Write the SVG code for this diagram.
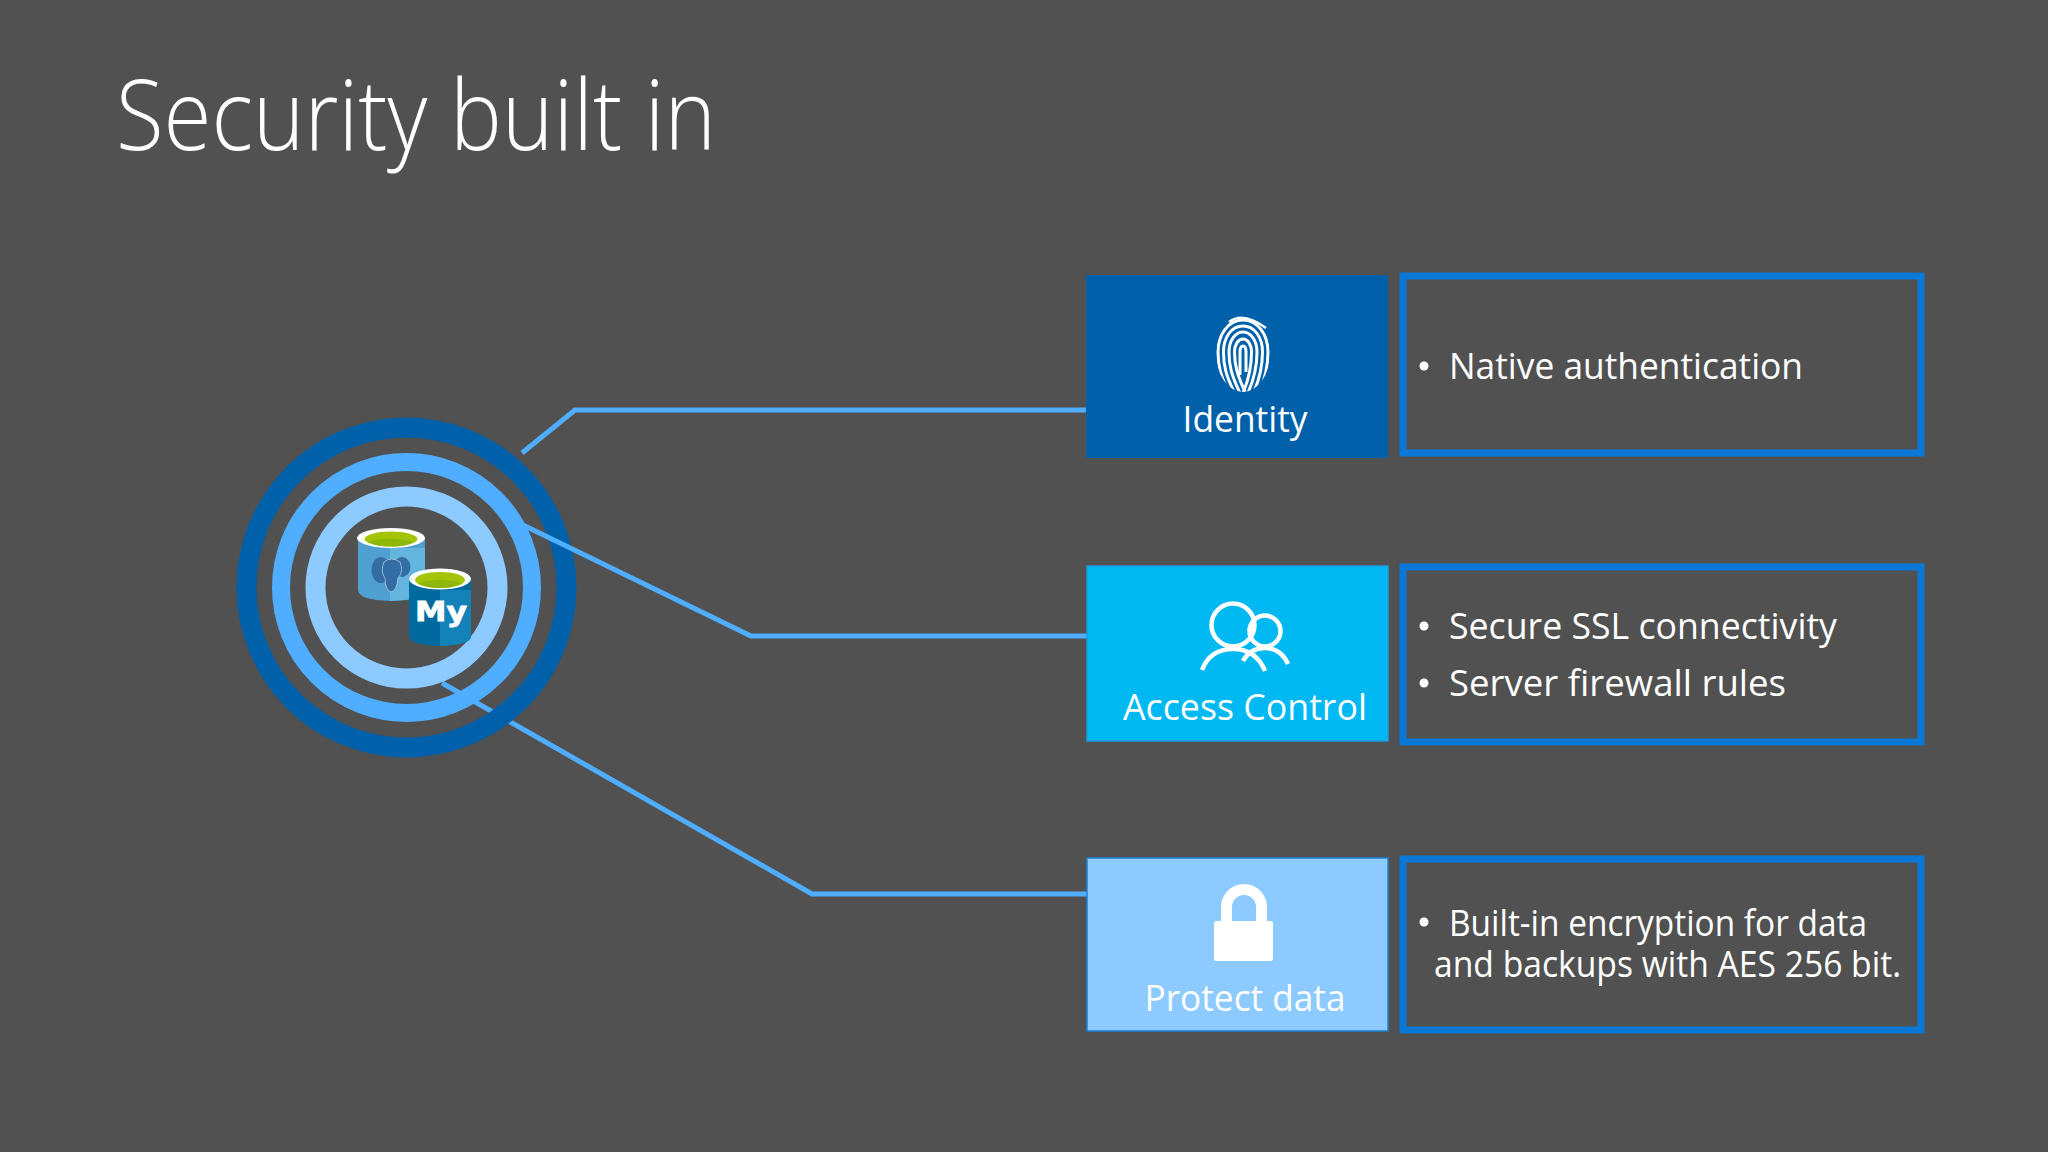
<svg xmlns="http://www.w3.org/2000/svg" width="2048" height="1152" viewBox="0 0 2048 1152">
<style>
text{font-family:"Open Sans","Noto Sans",sans-serif;fill:#fff}
.t{font-size:36px;font-weight:400}
.l{font-size:36px;text-anchor:middle}
.o{fill:#515151;stroke:#0a78d7;stroke-width:7}
.c{fill:none;stroke:#4faeff;stroke-width:5}
.r{fill:none}
.w{fill:none;stroke:#fff;stroke-width:4.5}
</style>
<defs>
<clipPath id="fp"><ellipse cx="1243" cy="353" rx="27" ry="39"/></clipPath>
</defs>
<rect width="2048" height="1152" fill="#515151"/>
<text x="116" y="150" font-size="97" textLength="600" lengthAdjust="spacingAndGlyphs" style="font-weight:300">Security built in</text>
<g id="connectors">
<path class="c" d="M442 683L812 894H1087"/>
<path class="c" d="M522 453L575 410H1086"/>
</g>
<g id="hub">
<circle class="r" cx="406.500" cy="587.500" r="160" stroke="#0060aa" stroke-width="20"/>
<circle class="r" cx="406.500" cy="587.500" r="125.500" stroke="#4faeff" stroke-width="18"/>
<circle class="r" cx="406.500" cy="587.500" r="91" stroke="#8ccaff" stroke-width="20"/>
<path class="c" d="M523 525L751 636H1087"/>
<g id="db-postgres">
<path d="M358 538V590Q358 600 391 601Q425 600 425 590V538Z" fill="#4fa0d0"/>
<path d="M390 548H425V590Q425 600 390 601Z" fill="#64b5dd"/>
<ellipse cx="391" cy="538" rx="34" ry="10" fill="#fff"/>
<ellipse cx="391" cy="539" rx="26.500" ry="7.500" fill="#a4c408"/>
<path d="M368 542Q391 535 414 542Q405 546.500 391 546.500Q377 546.500 368 542Z" fill="#8fb70a"/>
<ellipse cx="381" cy="570" rx="9.500" ry="13" fill="#336da3"/>
<ellipse cx="402" cy="567" rx="8.500" ry="10" fill="#336da3"/>
<path d="M384 562Q391 556 400 562Q404 572 398 578Q397 591 391 592Q385 590 385 578Q380 572 384 562Z" fill="#336da3" stroke="#a9cde6" stroke-width="0.800"/>
</g>
<g id="db-mysql">
<path d="M409 579V636Q409 645 440 646Q471 645 471 636V579Z" fill="#006a9e"/>
<path d="M440 590H471V636Q471 645 440 646Z" fill="#1282b8"/>
<ellipse cx="440" cy="579" rx="31" ry="10.500" fill="#fff"/>
<ellipse cx="440" cy="580" rx="25" ry="8" fill="#a4c408"/>
<path d="M418 583Q440 576 462 583Q454 588 440 588Q426 588 418 583Z" fill="#8fb70a"/>
<text x="415" y="621" font-size="27" font-weight="700" textLength="52" lengthAdjust="spacingAndGlyphs" stroke="#fff" stroke-width="0.800" style="font-family:'DejaVu Sans',sans-serif">My</text>
</g>
</g>
<g id="identity">
<rect x="1086" y="275" width="302" height="183" fill="#0060aa"/>
<g fill="none" stroke="#fff" stroke-width="3" clip-path="url(#fp)">
<path d="M1230 395C1220 375 1218 365 1218 352C1218 335 1228 320 1243 320C1258 320 1268 335 1268 352C1268 368 1265 380 1258 395"/>
<path d="M1235.500 395C1225.500 375 1223.500 365 1223.500 352C1223.500 338 1231 326 1243 326C1255 326 1262.500 338 1262.500 352C1262.500 368 1259.500 380 1252.500 395"/>
<path d="M1241 395C1231 375 1229 365 1229 352C1229 341 1235 332 1243 332C1251 332 1257 341 1257 352C1257 368 1254 380 1247 395"/>
<path d="M1246.500 395C1237 375 1234.500 365 1234.500 352C1234.500 345 1238 339 1243 339C1248 339 1251.500 345 1251.500 352C1251.500 368 1249 380 1242 395"/>
<path d="M1240 375V352C1240 348 1241 346 1243 346C1245 346 1246 348 1246 352V372"/>
</g>
<path d="M1229 322Q1243 311 1266 328" fill="none" stroke="#fff" stroke-width="2.500"/>
<text class="l" x="1245" y="432" textLength="125" lengthAdjust="spacingAndGlyphs">Identity</text>
</g>
<g id="access">
<rect x="1087" y="566" width="301" height="175" fill="#00b9f2" stroke="#1e9be0" stroke-width="1.500"/>
<circle class="w" cx="1233" cy="625" r="21.500"/>
<circle class="w" cx="1265" cy="631" r="15.500"/>
<path class="w" d="M1202 670Q1210 649 1233 649Q1256 649 1265 671"/>
<path class="w" d="M1243 661Q1250 648 1265 648Q1281 648 1288 664"/>
<text class="l" x="1245" y="720" textLength="244" lengthAdjust="spacingAndGlyphs">Access Control</text>
</g>
<g id="protect">
<rect x="1087" y="858" width="301" height="173" fill="#8ccaff" stroke="#1a82d4" stroke-width="1.500"/>
<path d="M1226.500 921V907A17.500 17.500 0 0 1 1261.500 907V921" fill="none" stroke="#fff" stroke-width="11"/>
<rect x="1214" y="921" width="59" height="40" rx="2" fill="#fff"/>
<text class="l" x="1245" y="1011" textLength="201" lengthAdjust="spacingAndGlyphs">Protect data</text>
</g>
<g id="identity-detail">
<rect class="o" x="1403" y="276" width="518" height="177"/>
<circle cx="1424" cy="366" r="4.500" fill="#fff"/>
<text class="t" x="1449" y="379" textLength="354" lengthAdjust="spacingAndGlyphs">Native authentication</text>
</g>
<g id="access-detail">
<rect class="o" x="1403" y="567" width="518" height="175"/>
<circle cx="1424" cy="626" r="4.500" fill="#fff"/>
<circle cx="1424" cy="683" r="4.500" fill="#fff"/>
<text class="t" x="1449" y="639" textLength="388" lengthAdjust="spacingAndGlyphs">Secure SSL connectivity</text>
<text class="t" x="1449" y="696" textLength="337" lengthAdjust="spacingAndGlyphs">Server firewall rules</text>
</g>
<g id="protect-detail">
<rect class="o" x="1403" y="859" width="518" height="171"/>
<circle cx="1424" cy="922" r="4.500" fill="#fff"/>
<text class="t" x="1449" y="936" textLength="418" lengthAdjust="spacingAndGlyphs">Built-in encryption for data</text>
<text class="t" x="1434" y="977" textLength="467" lengthAdjust="spacingAndGlyphs">and backups with AES 256 bit.</text>
</g>
</svg>
